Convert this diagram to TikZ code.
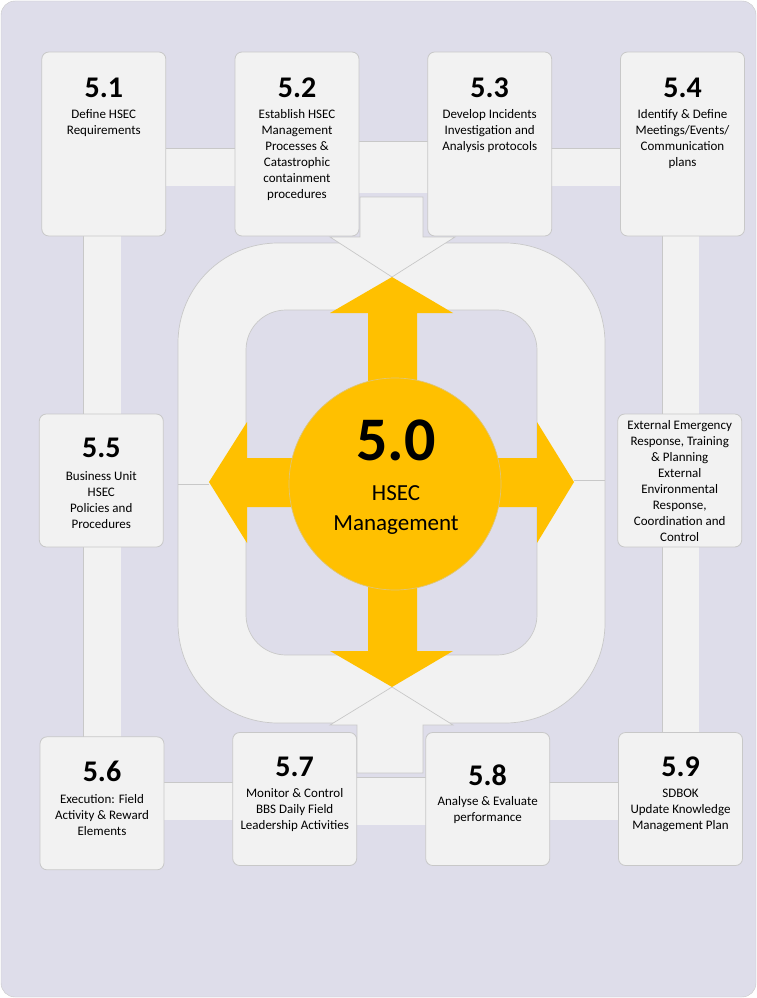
\documentclass[tikz,border=0pt]{standalone}
\usepackage{fontspec}
\setmainfont{Carlito}
\usetikzlibrary{backgrounds}
\definecolor{fondlav}{RGB}{222,221,234}
\definecolor{gris}{RGB}{242,242,242}
\definecolor{bord}{RGB}{200,200,200}
\definecolor{jaune}{RGB}{255,192,0}
\begin{document}
\begin{tikzpicture}[x=1pt,y=-1pt]
\tikzset{boite/.style={draw=bord, fill=gris, line width=0.8pt, rounded corners=7pt, minimum width=124pt, inner sep=0pt},
numero/.style={font=\fontsize{30}{36}\selectfont\bfseries, inner sep=0pt},
texte/.style={font=\fontsize{13}{16}\selectfont, align=center, inner sep=0pt},
bande/.style={draw=bord, line width=0.7pt, double=gris, double distance=#1},
forme/.style={fill=gris, draw=bord, line width=0.7pt}}
\useasboundingbox (0,0) rectangle (757,998);
\node[boite, minimum height=184pt] (B1) at (103.8,144) {};
\node[boite, minimum height=184pt] (B2) at (297,144) {};
\node[boite, minimum height=184pt] (B3) at (489.7,144) {};
\node[boite, minimum height=184pt] (B4) at (682.5,144) {};
\node[boite, minimum height=133pt] (B5) at (101.3,480.5) {};
\node[boite, minimum height=133pt] (BX) at (679.7,480.5) {};
\node[boite, minimum height=133pt] (B6) at (102,803.3) {};
\node[boite, minimum height=133pt] (B7) at (294.7,799) {};
\node[boite, minimum height=133pt] (B8) at (487.7,799) {};
\node[boite, minimum height=133pt] (B9) at (680.5,799) {};
\node[numero] (N1) at (103.8,88) {5.1};
\node[texte] (T1) at (103.8,123) {Define HSEC\\Requirements};
\node[numero] (N2) at (297,88) {5.2};
\node[texte] (T2) at (297,155) {Establish HSEC\\Management\\Processes \&\\Catastrophic\\containment\\procedures};
\node[numero] (N3) at (489.7,88) {5.3};
\node[texte] (T3) at (489.7,131) {Develop Incidents\\Investigation and\\Analysis protocols};
\node[numero] (N4) at (682.5,88) {5.4};
\node[texte] (T4) at (682.5,139) {Identify \& Define\\Meetings/Events/\\Communication\\plans};
\node[numero] (N5) at (101.3,448) {5.5};
\node[texte] (T5) at (101.3,500) {Business Unit\\HSEC\\Policies and\\Procedures};
\node[texte] (TX) at (679.7,481) {External Emergency\\Response, Training\\\& Planning\\External\\Environmental\\Response,\\Coordination and\\Control};
\node[numero] (N6) at (102,771) {5.6};
\node[texte] (T6) at (102,815) {Execution: Field\\Activity \& Reward\\Elements};
\node[numero] (N7) at (294.7,767) {5.7};
\node[texte] (T7) at (294.7,810) {Monitor \& Control\\BBS Daily Field\\Leadership Activities};
\node[numero] (N8) at (487.7,775) {5.8};
\node[texte] (T8) at (487.7,810) {Analyse \& Evaluate\\performance};
\node[numero] (N9) at (680.5,767) {5.9};
\node[texte] (T9) at (680.5,810) {SDBOK\\Update Knowledge\\Management Plan};
\begin{scope}[on background layer]
\draw[draw=bord, fill=fondlav, rounded corners=14pt] (1,1) rectangle (756,997);
\coordinate (hautR) at (0,167);
\coordinate (basR) at (0,801);
\coordinate (colG) at (102,0);
\coordinate (colD) at (680.5,0);
\draw[bande=37pt] (B1 |- hautR) -- (B2 |- hautR);
\draw[bande=51pt] (B2 |- hautR) -- (B3 |- hautR);
\draw[bande=37pt] (B3 |- hautR) -- (B4 |- hautR);
\draw[bande=37pt] (colG |- B1) -- (colG |- B5);
\draw[bande=37pt] (colG |- B5) -- (colG |- B6);
\draw[bande=36pt] (colD |- B4) -- (colD |- BX);
\draw[bande=36pt] (colD |- BX) -- (colD |- B9);
\draw[bande=37pt] (B6 |- basR) -- (B7 |- basR);
\draw[bande=47pt] (B7 |- basR) -- (B8 |- basR);
\draw[bande=37pt] (B8 |- basR) -- (B9 |- basR);
\end{scope}
\filldraw[forme, even odd rule] (278,243) -- (505,243) .. controls (560.2,243) and (605,287.8) .. (605,343) -- (605,623) .. controls (605,678.2) and (560.2,723) .. (505,723) -- (278,723) .. controls (222.8,723) and (178,678.2) .. (178,623) -- (178,343) .. controls (178,287.8) and (222.8,243) .. (278,243) -- cycle
  (286,310) -- (497,310) .. controls (519.1,310) and (537,327.9) .. (537,350) -- (537,615) .. controls (537,637.1) and (519.1,655) .. (497,655) -- (286,655) .. controls (263.9,655) and (246,637.1) .. (246,615) -- (246,350) .. controls (246,327.9) and (263.9,310) .. (286,310) -- cycle;
\draw[bord, line width=0.7pt] (178,484) -- (209,484);
\draw[bord, line width=0.7pt] (574,480) -- (605,480);
\filldraw[forme] (360,197) -- (360,237) -- (330,237) -- (392,277) -- (455,237) -- (423,237) -- (423,197) -- cycle;
\filldraw[forme] (357,773) -- (357,725) -- (330,725) -- (392,687) -- (453,725) -- (423,725) -- (423,773) -- cycle;
\fill[jaune] (368,313) -- (330,313) -- (392,277) -- (453,313) -- (417,313) -- (417,458) -- (537,458) -- (537,422) -- (574,482) -- (537,543) -- (537,507) -- (417,507) -- (417,651) -- (453,651) -- (392,687) -- (330,651) -- (368,651) -- (368,507) -- (247,507) -- (247,543) -- (209,482) -- (247,422) -- (247,458) -- (368,458) -- cycle;
\node[circle, fill=jaune, draw=bord!60!jaune, line width=0.7pt, minimum size=212pt, inner sep=0pt] (C) at (395,484) {};
\node[font=\fontsize{62}{70}\selectfont\bfseries, inner sep=0pt] (C0) at (396,440) {5.0};
\node[font=\fontsize{23}{30}\selectfont, align=center, inner sep=0pt] (CT) at (396,510) {HSEC\\Management};
\end{tikzpicture}
\end{document}
